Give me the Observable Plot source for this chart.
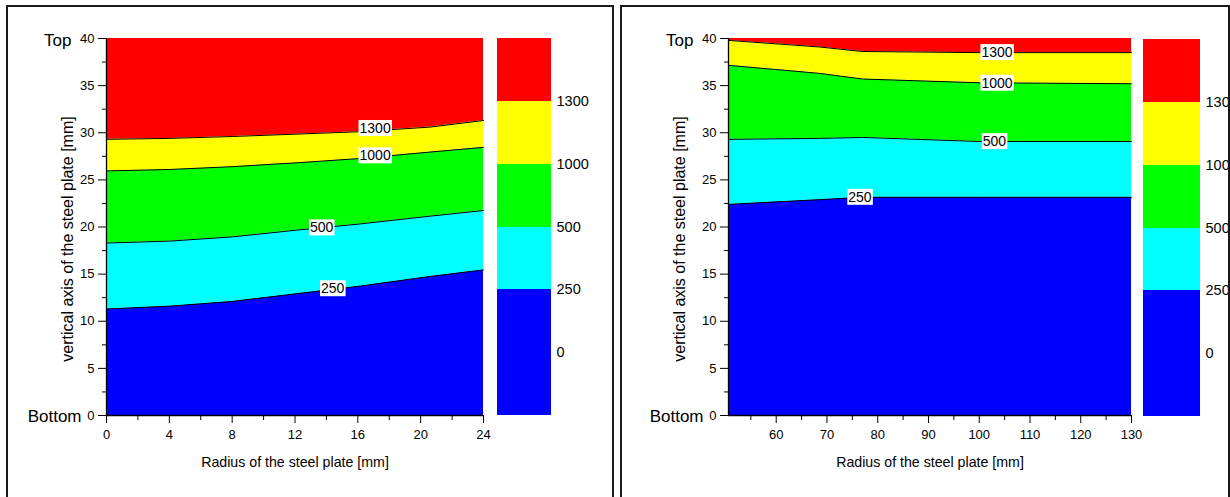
<!DOCTYPE html>
<html>
<head>
<meta charset="utf-8">
<script src="https://cdn.jsdelivr.net/npm/d3@7"></script>
<script src="https://cdn.jsdelivr.net/npm/@observablehq/plot@0.6"></script>
<style>
  html, body { margin: 0; padding: 0; background: #fff; }
  body { width: 1230px; height: 497px; overflow: hidden; position: relative;
         font-family: "Liberation Sans", Arial, sans-serif; }
  .frame { position: absolute; top: 5px; height: 520px; border: 2px solid #1a1a1a;
           overflow: hidden; box-sizing: border-box; }
  .frame svg { position: absolute; overflow: visible; }
</style>
</head>
<body>
<div id="frameA" class="frame" style="left:6px;width:608px"></div>
<div id="frameB" class="frame" style="left:620px;width:610px"></div>
<script>
// Temperature contour levels and the fill used for the band below each level
const levels = [250, 500, 1000, 1300];
const bandColors = ["#0000ff", "#00ffff", "#00ff00", "#ffff00", "#ff0000"];

// Colour bar: six equal cells from the bottom, tick values on the cell borders
const legendColors = ["#0000ff", "#0000ff", "#00ffff", "#00ff00", "#ffff00", "#ff0000"];
const legendTicks = [0, 250, 500, 1000, 1300];

const plateDepth = [0, 40];
const yLabel = "vertical axis of the steel plate [mm]";
const xLabel = "Radius of the steel plate [mm]";

// Inner plate (radius 0 – 24 mm): height of each isotherm along the radius
const innerRadius = [0, 4, 8, 12, 16, 20.6, 24];
const inner250  = [11.3, 11.6, 12.1, 12.9, 13.7, 14.75, 15.45];
const inner500  = [18.3, 18.5, 18.95, 19.65, 20.3, 21.15, 21.75];
const inner1000 = [25.95, 26.1, 26.4, 26.8, 27.25, 27.95, 28.45];
const inner1300 = [29.3, 29.4, 29.6, 29.85, 30.1, 30.6, 31.3];
const innerLabelX = [17.1, 17.1, 13.7, 14.4];
const innerLabelY = [30.45, 27.55, 19.9, 13.45];
const innerLabelLevel = [1300, 1000, 500, 250];

// Outer ring (radius 50.6 – 130 mm)
const outerRadius = [50.6, 68.5, 77, 100, 130];
const outer250  = [22.4, 22.9, 23.15, 23.15, 23.15];
const outer500  = [29.3, 29.4, 29.5, 29.07, 29.07];
const outer1000 = [37.15, 36.3, 35.7, 35.3, 35.2];
const outer1300 = [39.8, 39.1, 38.62, 38.5, 38.5];
const outerLabelX = [103.5, 103.5, 103, 76.5];
const outerLabelY = [38.5, 35.25, 29.05, 23.15];
const outerLabelLevel = [1300, 1000, 500, 250];

const FONT = '"Liberation Sans", Arial, sans-serif';

function place(svg, frame, left, top) {
  svg.style.left = left + "px";
  svg.style.top = top + "px";
  frame.appendChild(svg);
}

// Put a white box behind every contour label
function boxLabels(svg) {
  svg.querySelectorAll(".clabel text").forEach(t => {
    const b = t.getBBox();
    const r = document.createElementNS("http://www.w3.org/2000/svg", "rect");
    r.setAttribute("x", b.x - 1);
    r.setAttribute("y", b.y);
    r.setAttribute("width", b.width + 2);
    r.setAttribute("height", b.height);
    r.setAttribute("fill", "white");
    if (t.getAttribute("transform")) r.setAttribute("transform", t.getAttribute("transform"));
    t.parentNode.insertBefore(r, t);
  });
}

function contourPlot(o) {
  const rows = o.radius.map((x, i) => ({
    x, b0: plateDepth[0], b1: o.c250[i], b2: o.c500[i], b3: o.c1000[i], b4: o.c1300[i], b5: plateDepth[1]
  }));
  const labelRows = o.labelLevel.map((lv, i) => ({x: o.labelX[i], y: o.labelY[i], lv}));
  const x0 = o.xDomain[0];
  const marks = [];
  bandColors.forEach((c, k) => {
    marks.push(Plot.areaY(rows, {x: "x", y1: "b" + k, y2: "b" + (k + 1), fill: c}));
  });
  levels.forEach((lv, k) => {
    marks.push(Plot.line(rows, {x: "x", y: "b" + (k + 1), stroke: "#000", strokeWidth: 1}));
  });
  marks.push(
    Plot.text(labelRows, {x: "x", y: "y", text: d => String(d.lv), fontSize: 14, fill: "#000",
      lineAnchor: "middle", className: "clabel"}),
    Plot.ruleX([x0], {stroke: "#000", strokeWidth: 1.3}),
    Plot.ruleY([0], {stroke: "#000", strokeWidth: 1.3}),
    Plot.axisY({ticks: d3.range(0, 41, 5), tickSize: 8, tickPadding: 4, fontSize: 13, label: null}),
    Plot.axisY({ticks: d3.range(2.5, 40, 5), tickSize: 4, tickFormat: () => "", label: null}),
    Plot.axisX({ticks: o.xTicks, tickSize: 8, tickPadding: 6, fontSize: 13, label: null}),
    Plot.axisX({ticks: o.xMinor, tickSize: 5, tickFormat: () => "", label: null}),
    Plot.text(["Top"], {x: x0, y: 40, dx: -35, dy: 2.5, textAnchor: "end", lineAnchor: "middle", fontSize: 17}),
    Plot.text(["Bottom"], {x: x0, y: 0, dx: -25, dy: 1, textAnchor: "end", lineAnchor: "middle", fontSize: 17}),
    Plot.text([yLabel], {frameAnchor: "left", rotate: -90, dx: o.titleDx, dy: 12, fontSize: 16,
      textAnchor: "middle", lineAnchor: "middle"}),
    Plot.text([xLabel], {frameAnchor: "bottom", dy: 47, fontSize: 14.2, textAnchor: "middle", lineAnchor: "middle"})
  );
  return Plot.plot({
    width: o.width, height: 497,
    marginLeft: o.marginLeft, marginRight: o.marginRight, marginTop: 38, marginBottom: 82,
    style: {background: "transparent", fontFamily: FONT, color: "#000", overflow: "visible"},
    x: {domain: o.xDomain, label: null},
    y: {domain: plateDepth, label: null},
    marks
  });
}

function colorBar(o) {
  return Plot.plot({
    width: 130, height: 497,
    marginLeft: 7, marginRight: 130 - 7 - o.barWidth, marginTop: o.top, marginBottom: 497 - o.bottom,
    style: {background: "transparent", fontFamily: FONT, color: "#000", overflow: "visible"},
    x: {domain: [0, 1], axis: null},
    y: {domain: [0, legendColors.length], axis: null},
    color: {type: "identity"},
    marks: [
      Plot.rect(legendColors, {x1: 0, x2: 1, y1: (d, i) => i, y2: (d, i) => i + 1, fill: d => d,
        shapeRendering: "crispEdges"}),
      Plot.text(legendTicks, {x: 1, y: (d, i) => i + 1, text: d => String(d), dx: 5,
        textAnchor: "start", lineAnchor: "middle", fontSize: 14.5})
    ]
  });
}

const frameA = document.getElementById("frameA");
const frameB = document.getElementById("frameB");

// Inner plate panel (frame content starts at page x=8, y=7)
const pA = contourPlot({
  radius: innerRadius, c250: inner250, c500: inner500, c1000: inner1000, c1300: inner1300,
  labelX: innerLabelX, labelY: innerLabelY, labelLevel: innerLabelLevel,
  xDomain: [0, 24], xTicks: d3.range(0, 25, 4), xMinor: d3.range(2, 24, 4),
  width: 600, marginLeft: 106, marginRight: 117, titleDx: -38.5
});
place(pA, frameA, -8, -7);
boxLabels(pA);
place(colorBar({barWidth: 54, top: 38, bottom: 415}), frameA, 490 - 8, -7);

// Outer ring panel (frame content starts at page x=622, y=7)
const pB = contourPlot({
  radius: outerRadius, c250: outer250, c500: outer500, c1000: outer1000, c1300: outer1300,
  labelX: outerLabelX, labelY: outerLabelY, labelLevel: outerLabelLevel,
  xDomain: [50.6, 130], xTicks: d3.range(60, 131, 10), xMinor: d3.range(55, 130, 10),
  width: 600, marginLeft: 113, marginRight: 84, titleDx: -49
});
place(pB, frameB, 615 - 622, -7);
boxLabels(pB);
place(colorBar({barWidth: 57, top: 39, bottom: 416}), frameB, 1136 - 622, -7);
</script>
</body>
</html>
